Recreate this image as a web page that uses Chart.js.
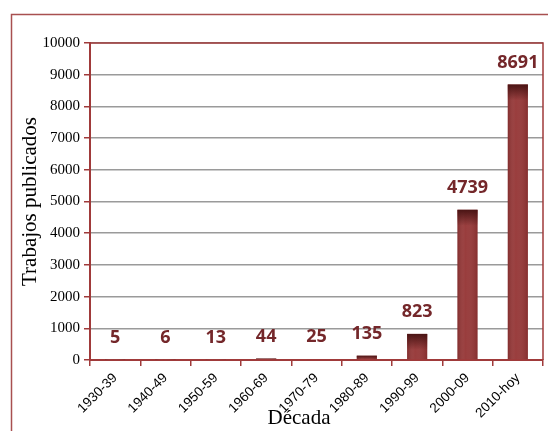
<!DOCTYPE html>
<html>
<head>
<meta charset="utf-8">
<script src="https://cdn.jsdelivr.net/npm/chart.js@4"></script>
<style>
  html, body { margin: 0; padding: 0; background: #fff; }
  #wrap { width: 548px; height: 431px; }
</style>
</head>
<body>
<div id="wrap"><canvas id="chart" width="548" height="431"></canvas></div>
<script>
// data
const decades = ['1930-39', '1940-49', '1950-59', '1960-69', '1970-79', '1980-89', '1990-99', '2000-09', '2010-hoy'];
const papers = [5, 6, 13, 44, 25, 135, 823, 4739, 8691];
const yTicks = [0, 1000, 2000, 3000, 4000, 5000, 6000, 7000, 8000, 9000, 10000];

const RED = '#a03a3a';
const BAR = '#953535';
const LABEL = '#74272a';

// frame, plot border, bar shading, value labels, x title
const decor = {
  id: 'decor',
  beforeDraw(chart) {
    const ctx = chart.ctx;
    ctx.save();
    ctx.strokeStyle = '#a85050';
    ctx.lineWidth = 1.5;
    ctx.beginPath();
    ctx.moveTo(548, 14.5);
    ctx.lineTo(11.5, 14.5);
    ctx.lineTo(11.5, 431);
    ctx.stroke();
    ctx.restore();
  },
  afterDatasetsDraw(chart) {
    const ctx = chart.ctx;
    const meta = chart.getDatasetMeta(0);
    ctx.save();
    meta.data.forEach((bar, i) => {
      const h = bar.base - bar.y;
      const left = bar.x - bar.width / 2;
      // side shading
      const gx = ctx.createLinearGradient(left, 0, left + bar.width, 0);
      gx.addColorStop(0, 'rgba(70,15,15,0.25)');
      gx.addColorStop(0.4, 'rgba(255,255,255,0.04)');
      gx.addColorStop(1, 'rgba(70,15,15,0.2)');
      ctx.fillStyle = gx;
      ctx.fillRect(left, bar.y, bar.width, h);
      // dark cap
      const capH = Math.min(16, h);
      if (capH > 0) {
        const g = ctx.createLinearGradient(0, bar.y, 0, bar.y + capH);
        g.addColorStop(0, 'rgba(70,18,18,0.95)');
        g.addColorStop(1, 'rgba(70,18,18,0)');
        ctx.fillStyle = g;
        ctx.fillRect(left, bar.y, bar.width, capH);
      }
      // value label
      ctx.fillStyle = LABEL;
      ctx.font = 'bold 18px "Open Sans", sans-serif';
      ctx.textAlign = 'center';
      ctx.textBaseline = 'middle';
      ctx.fillText(String(papers[i]), bar.x, bar.y - 22);
    });
    ctx.restore();
  },
  afterDraw(chart) {
    const ctx = chart.ctx;
    const a = chart.chartArea;
    ctx.save();
    ctx.strokeStyle = RED;
    ctx.lineWidth = 1.5;
    ctx.beginPath();
    ctx.moveTo(a.left, a.top);
    ctx.lineTo(a.right, a.top);
    ctx.lineTo(a.right, a.bottom);
    ctx.stroke();
    ctx.fillStyle = '#000';
    ctx.font = '21px "Liberation Serif", serif';
    ctx.textAlign = 'center';
    ctx.textBaseline = 'alphabetic';
    ctx.fillText('Década', 299, 424);
    ctx.restore();
  }
};

new Chart(document.getElementById('chart'), {
  type: 'bar',
  data: {
    labels: decades,
    datasets: [{
      data: papers,
      backgroundColor: BAR,
      borderWidth: 0,
      categoryPercentage: 1,
      barPercentage: 0.4
    }]
  },
  options: {
    responsive: false,
    animation: false,
    layout: { padding: { left: 0, top: 43, right: 5, bottom: 0 } },
    plugins: { legend: { display: false }, tooltip: { enabled: false } },
    scales: {
      x: {
        offset: true,
        grid: { offset: true, drawOnChartArea: false, tickColor: RED, tickLength: 6, lineWidth: 1.5 },
        border: { color: RED, width: 2 },
        ticks: {
          color: '#000',
          font: { family: '"Liberation Sans", Arial, sans-serif', size: 13.5 },
          maxRotation: 45, minRotation: 45,
          padding: 4
        },
        afterFit(scale) { scale.height = 71; }
      },
      y: {
        min: 0, max: 10000,
        afterBuildTicks(scale) { scale.ticks = yTicks.map(v => ({ value: v })); },
        grid: { color: '#9a9a9a', lineWidth: 1.5, tickColor: RED, tickLength: 6 },
        border: { color: RED, width: 2 },
        ticks: {
          color: '#000',
          font: { family: '"Liberation Serif", serif', size: 15 },
          padding: 4,
          callback: v => String(v)
        },
        title: {
          display: true,
          text: 'Trabajos publicados',
          color: '#000',
          font: { family: '"Liberation Serif", serif', size: 21 },
          padding: { top: 18, bottom: 0 }
        },
        afterFit(scale) { scale.width = 90; }
      }
    }
  },
  plugins: [decor]
});
</script>
</body>
</html>
